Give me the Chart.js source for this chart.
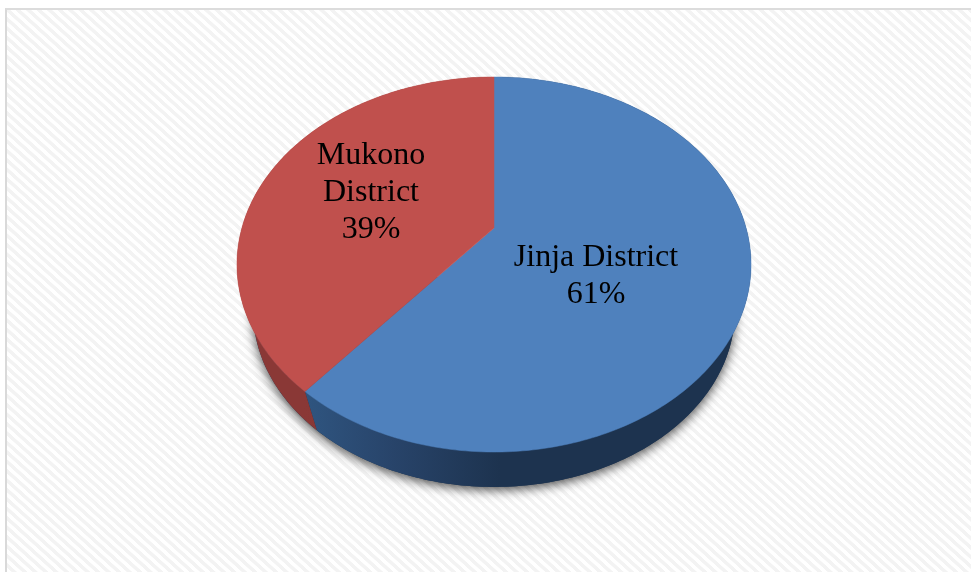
<!DOCTYPE html>
<html>
<head>
<meta charset="utf-8">
<title>District share</title>
<script src="https://cdn.jsdelivr.net/npm/chart.js@4"></script>
<style>
  html, body { margin: 0; padding: 0; background: #fff; overflow: hidden; }
  #frame {
    position: absolute; left: 5px; top: 8px; width: 966px; height: 564px;
    box-sizing: border-box;
    border-left: 2px solid #d9d9d9; border-top: 2px solid #dcdcdc;
    background: repeating-linear-gradient(42deg, #ffffff 0, #ffffff 3px, #f3f3f3 3.5px, #f3f3f3 6.5px, #ffffff 7px);
  }
  #pieChart { position: absolute; left: 0; top: 0; }
</style>
</head>
<body>
<div id="frame"></div>
<canvas id="pieChart" width="971" height="572"></canvas>
<script>
const categories = ['Jinja District', 'Mukono District'];
const shares = [61, 39];
const topColors = ['#4f81bd', '#c0504d'];

// Tilted disc: where the pie centre lands, and how the unit circle projects around it
const apex = { x: 494, y: 228 };
const tilt = { a: 252.1, b: 180.4, k: 0.1947 };
// Lower rim of the disc is the upper rim shrunk and pushed down
const rimScale = 0.937;
const rimDrop = 49;

function project(angle, scale, drop) {
  const u = Math.cos(angle);
  const v = Math.sin(angle);
  const w = 1 - tilt.k * v;
  return {
    x: apex.x + scale * tilt.a * u / w,
    y: apex.y + drop + scale * tilt.b * v / w
  };
}

function rimPoints(start, end, scale, drop) {
  const steps = Math.max(2, Math.ceil((end - start) * 60));
  const pts = [];
  for (let i = 0; i <= steps; i++) {
    pts.push(project(start + (end - start) * i / steps, scale, drop));
  }
  return pts;
}

function tracePath(ctx, pts) {
  ctx.beginPath();
  pts.forEach((p, i) => (i ? ctx.lineTo(p.x, p.y) : ctx.moveTo(p.x, p.y)));
  ctx.closePath();
}

function sideGradient(ctx, index) {
  const g = ctx.createLinearGradient(304, 0, 500, 0);
  if (index === 0) {
    g.addColorStop(0, '#2f5580');
    g.addColorStop(0.45, '#28446a');
    g.addColorStop(1, '#1d334f');
  } else {
    g.addColorStop(0, '#8a3836');
    g.addColorStop(1, '#7c302e');
  }
  return g;
}

// Splits text on the last space when a label is too long for one line
function labelLines(name, pct) {
  const lines = name.length > 14 ? name.split(' ') : [name];
  return lines.concat(pct + '%');
}

const labelAnchors = [
  { x: 596, y: 266 },
  { x: 371, y: 164 }
];

const tiltedPie = {
  id: 'tiltedPie',
  beforeDatasetsDraw(chart) {
    const ctx = chart.ctx;
    const arcs = chart.getDatasetMeta(0).data;
    ctx.save();

    // Soft shadow under the whole disc
    ctx.save();
    ctx.shadowColor = 'rgba(0,0,0,0.7)';
    ctx.shadowBlur = 11;
    ctx.shadowOffsetY = 3;
    ctx.fillStyle = '#1d334f';
    tracePath(ctx, rimPoints(0, Math.PI, rimScale, rimDrop));
    ctx.fill();
    ctx.restore();

    // Side wall, one strip per slice
    arcs.forEach((arc, i) => {
      const upper = rimPoints(arc.startAngle, arc.endAngle, 1, 0);
      const lower = rimPoints(arc.startAngle, arc.endAngle, rimScale, rimDrop).reverse();
      ctx.fillStyle = sideGradient(ctx, i);
      tracePath(ctx, upper.concat(lower));
      ctx.fill();
    });

    // Top face
    arcs.forEach((arc, i) => {
      const pts = [apex].concat(rimPoints(arc.startAngle, arc.endAngle, 1, 0));
      ctx.fillStyle = topColors[i];
      ctx.strokeStyle = topColors[i];
      ctx.lineWidth = 0.5;
      tracePath(ctx, pts);
      ctx.fill();
      ctx.stroke();
    });

    // Data labels
    ctx.fillStyle = '#000';
    ctx.font = '32px "Liberation Serif"';
    ctx.textAlign = 'center';
    ctx.textBaseline = 'alphabetic';
    categories.forEach((name, i) => {
      labelLines(name, shares[i]).forEach((line, n) => {
        ctx.fillText(line, labelAnchors[i].x, labelAnchors[i].y + n * 37);
      });
    });

    ctx.restore();
    return false; // arcs are already painted
  }
};

new Chart(document.getElementById('pieChart'), {
  type: 'pie',
  data: {
    labels: categories,
    datasets: [{
      data: shares,
      backgroundColor: topColors,
      borderWidth: 0
    }]
  },
  options: {
    responsive: false,
    animation: false,
    plugins: {
      legend: { display: false },
      tooltip: { enabled: false }
    }
  },
  plugins: [tiltedPie]
});
</script>
</body>
</html>
